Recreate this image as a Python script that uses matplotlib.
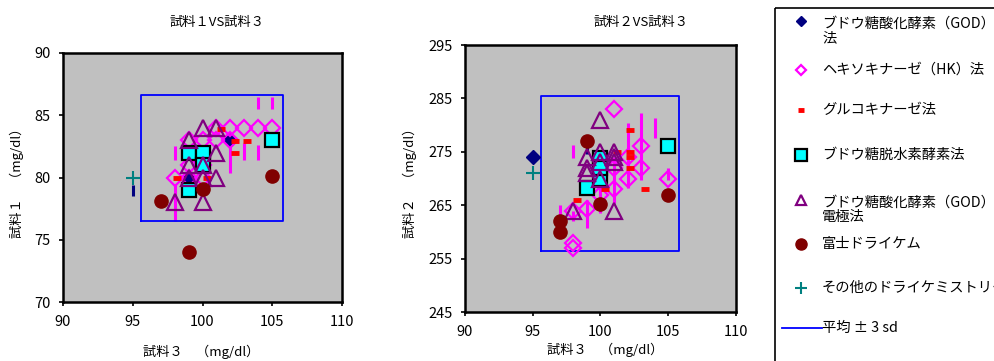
import matplotlib
matplotlib.use("Agg")
import matplotlib.pyplot as plt
from matplotlib.patches import Rectangle

plt.rcParams['font.family'] = ['Noto Sans CJK JP', 'DejaVu Sans']

# ---- 試料1 VS 試料3 ----
l_god_x, l_god_y = [99, 102], [80, 83]
l_hk_x = [98, 99, 99, 100, 100, 101, 101, 102, 103, 104, 105, 99, 100, 102]
l_hk_y = [80, 83, 81, 83, 80, 83, 84, 84, 84, 84, 84, 80, 81, 83]
l_gk_x = [98.2, 100.3, 101.3, 102.3, 103.2, 102.3]
l_gk_y = [80, 80, 83.9, 82.9, 82.9, 82]
l_gdh_x = [99, 100, 100, 99, 105]
l_gdh_y = [82, 82, 81, 79, 83]
l_tri_x = [99, 100, 101, 101, 99, 100, 99, 101, 100, 98, 100]
l_tri_y = [83, 84, 84, 82, 81, 81, 80, 80, 78, 78, 80]
l_fuji_x = [97, 100, 105, 99]
l_fuji_y = [78.1, 79.1, 80.1, 74]
l_oth_x, l_oth_y = [95], [80]
l_bar_x = [98, 98, 102, 103, 104, 104, 105]
l_bar_lo = [81.4, 76.5, 80.4, 81.4, 81.4, 85.5, 85.5]
l_bar_hi = [82.5, 79.5, 82.8, 82.8, 82.6, 86.5, 86.5]
l_nbar_x, l_nbar_lo, l_nbar_hi = [95], [78.5], [79.4]
l_box_x = [95.6, 105.8, 105.8, 95.6, 95.6]
l_box_y = [76.5, 76.5, 86.6, 86.6, 76.5]

# ---- 試料2 VS 試料3 ----
r_god_x, r_god_y = [95], [274]
r_hk_x = [101, 103, 103, 105, 102, 102, 101, 101, 100, 99, 98, 98, 98, 100]
r_hk_y = [283, 276, 272, 270, 270, 274, 268, 272, 267, 264.3, 264, 258, 257, 272]
r_gk_x = [102.2, 102.2, 102.2, 102.2, 101.2, 103.3, 100.3, 98.3]
r_gk_y = [279, 275, 274, 272, 275, 268, 268, 266]
r_gdh_x = [105, 99, 100, 100, 100]
r_gdh_y = [276, 268.2, 273.8, 270, 272]
r_tri_x = [100, 99, 99, 99, 100, 100, 100, 101, 101, 101, 98, 101]
r_tri_y = [281, 274, 272, 271, 275, 273, 270, 275, 274, 273, 264, 264]
r_fuji_x = [99, 97, 97, 100, 105]
r_fuji_y = [277, 262, 260, 265.2, 267]
r_oth_x, r_oth_y = [95], [271]
r_bar_x = [98, 103, 104, 102, 101, 100, 99, 98, 97, 105]
r_bar_lo = [273.8, 269.8, 277.6, 268.2, 265.4, 263.5, 260.7, 262, 263, 269.7]
r_bar_hi = [276.3, 282.2, 281.3, 280.4, 274.1, 268.8, 266, 264, 265, 272]
r_nbar_x, r_nbar_lo, r_nbar_hi = [99], [274.5], [276]
r_box_x = [95.6, 105.8, 105.8, 95.6, 95.6]
r_box_y = [256.4, 256.4, 285.5, 285.5, 256.4]

legend_labels = ['ブドウ糖酸化酵素（GOD）\n法', 'ヘキソキナーゼ（HK）法', 'グルコキナーゼ法',
                 'ブドウ糖脱水素酵素法', 'ブドウ糖酸化酵素（GOD）\n電極法', '富士ドライケム',
                 'その他のドライケミストリー', '平均 ± 3 sd']

fig = plt.figure(figsize=(9.94, 3.61), dpi=100)
ax1 = fig.add_axes([0.0634, 0.1634, 0.2807, 0.6898])
ax2 = fig.add_axes([0.4678, 0.1357, 0.2726, 0.7396])


def draw(ax, d):
    ax.set_facecolor('#C0C0C0')
    ax.vlines(d['bx'], d['blo'], d['bhi'], colors='#FF00FF', lw=2.2, zorder=2)
    ax.vlines(d['nx'], d['nlo'], d['nhi'], colors='#000080', lw=2.2, zorder=2)
    ax.plot(d['box_x'], d['box_y'], color='#0000FF', lw=1.3, zorder=2)
    ax.plot(d['god'][0], d['god'][1], 'D', color='#000080', ms=7, ls='none', zorder=3)
    ax.plot(d['hk'][0], d['hk'][1], 'D', mfc='none', mec='#FF00FF', mew=1.6, ms=8, ls='none', zorder=3)
    ax.plot(d['gk'][0], d['gk'][1], '_', color='#FF0000', mew=3.5, ms=6, ls='none', zorder=3)
    ax.plot(d['gdh'][0], d['gdh'][1], 's', mfc='#00FFFF', mec='black', mew=1.6, ms=10, ls='none', zorder=4)
    ax.plot(d['tri'][0], d['tri'][1], '^', mfc='none', mec='#800080', mew=1.6, ms=11, ls='none', zorder=5)
    ax.plot(d['fuji'][0], d['fuji'][1], 'o', color='#800000', ms=9.5, ls='none', zorder=6)
    ax.plot(d['oth'][0], d['oth'][1], '+', color='#008080', mew=1.5, ms=10, ls='none', zorder=6)
    ax.set_xlim(90, 110)
    ax.set_xticks([90, 95, 100, 105, 110])
    for s in ax.spines.values():
        s.set_linewidth(1.8)
    ax.tick_params(direction='out', length=3, width=1.2, labelsize=10.5, pad=6)


draw(ax1, dict(bx=l_bar_x, blo=l_bar_lo, bhi=l_bar_hi, nx=l_nbar_x, nlo=l_nbar_lo, nhi=l_nbar_hi,
               box_x=l_box_x, box_y=l_box_y, god=(l_god_x, l_god_y), hk=(l_hk_x, l_hk_y),
               gk=(l_gk_x, l_gk_y), gdh=(l_gdh_x, l_gdh_y), tri=(l_tri_x, l_tri_y),
               fuji=(l_fuji_x, l_fuji_y), oth=(l_oth_x, l_oth_y)))
ax1.set_ylim(70, 90)
ax1.set_yticks([70, 75, 80, 85, 90])

draw(ax2, dict(bx=r_bar_x, blo=r_bar_lo, bhi=r_bar_hi, nx=r_nbar_x, nlo=r_nbar_lo, nhi=r_nbar_hi,
               box_x=r_box_x, box_y=r_box_y, god=(r_god_x, r_god_y), hk=(r_hk_x, r_hk_y),
               gk=(r_gk_x, r_gk_y), gdh=(r_gdh_x, r_gdh_y), tri=(r_tri_x, r_tri_y),
               fuji=(r_fuji_x, r_fuji_y), oth=(r_oth_x, r_oth_y)))
ax2.set_ylim(245, 295)
ax2.set_yticks([245, 255, 265, 275, 285, 295])

# titles and labels
fig.text(217 / 994, 1 - 22 / 361, '試料１VS試料３', ha='center', va='center', fontsize=9.5)
fig.text(641 / 994, 1 - 22 / 361, '試料２VS試料３', ha='center', va='center', fontsize=9.5)
fig.text(201 / 994, 1 - 352 / 361, '試料３　（mg/dl）', ha='center', va='center', fontsize=9.5)
fig.text(605 / 994, 1 - 350 / 361, '試料３　（mg/dl）', ha='center', va='center', fontsize=9.5)
fig.text(17 / 994, 1 - 180 / 361, '試料１　（mg/dl）', ha='center', va='center', rotation=90, fontsize=9.5)
fig.text(410 / 994, 1 - 180 / 361, '試料２　（mg/dl）', ha='center', va='center', rotation=90, fontsize=9.5)

# legend panel
lg = fig.add_axes([0, 0, 1, 1], facecolor='none')
lg.set_xlim(0, 994)
lg.set_ylim(361, 0)
lg.axis('off')
lg.add_patch(Rectangle((775, 8), 240, 370, fill=False, ec='black', lw=1.2))
handles = [
    dict(marker='D', color='#000080', ms=5.5),
    dict(marker='D', mfc='none', mec='#FF00FF', mew=1.6, ms=5.5),
    dict(marker='_', color='#FF0000', mew=3.5, ms=5),
    dict(marker='s', mfc='#00FFFF', mec='black', mew=1.6, ms=8),
    dict(marker='^', mfc='none', mec='#800080', mew=1.6, ms=7),
    dict(marker='o', color='#800000', ms=8),
    dict(marker='+', color='#008080', mew=1.5, ms=8),
]
ys = [21, 70, 110, 155, 200, 244, 288]
text_y = [31, 70, 110, 155, 210, 244, 288]
for h, y, ty, lab in zip(handles, ys, text_y, legend_labels):
    lg.plot([801], [y], ls='none', **h)
    lg.text(822, ty, lab, va='center', ha='left', fontsize=10.3, linespacing=1.05)
lg.plot([782, 822], [328, 328], color='#0000FF', lw=1.3)
lg.text(822, 328, legend_labels[-1], va='center', ha='left', fontsize=10.3)

fig.savefig('out.png', dpi=100)
